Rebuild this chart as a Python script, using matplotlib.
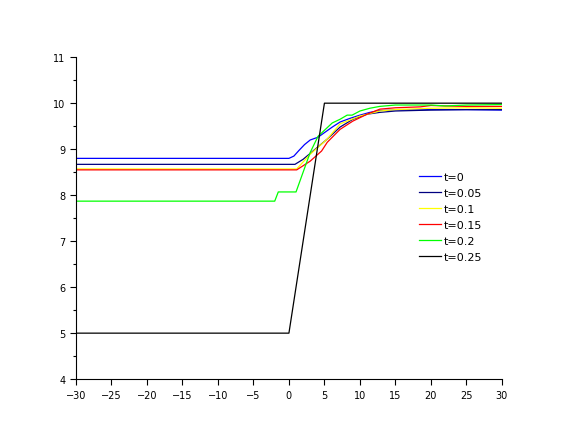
import matplotlib
matplotlib.use("Agg")
from matplotlib import pyplot as plt
from matplotlib.ticker import MultipleLocator

# curve samples
labels = ["t=0", "t=0.05", "t=0.1", "t=0.15", "t=0.2", "t=0.25"]
colors = ["#0000ff", "#000080", "#ffff00", "#ff0000", "#00ff00", "#000000"]

x_t0 = [-30, 0, 0.7, 1.4, 2.2, 3, 4.1, 6.1, 7.2, 8.6, 10, 11.4, 12.8, 15, 20, 25, 30]
y_t0 = [8.80, 8.80, 8.85, 8.97, 9.10, 9.20, 9.26, 9.48, 9.59, 9.67, 9.74, 9.80, 9.84, 9.85, 9.86, 9.86, 9.85]

x_t005 = [-30, 0.85, 2, 3.4, 5.4, 7.2, 9, 11, 12.8, 15, 20, 25, 30]
y_t005 = [8.67, 8.67, 8.78, 8.96, 9.22, 9.48, 9.65, 9.76, 9.80, 9.83, 9.85, 9.86, 9.86]

x_t01 = [-30, 1.1, 3, 5.4, 7.2, 10, 12.8, 15, 20, 25, 30]
y_t01 = [8.57, 8.57, 8.89, 9.22, 9.55, 9.72, 9.83, 9.86, 9.89, 9.90, 9.89]

x_t015 = [-30, 1.1, 3, 4.6, 5.4, 7.2, 9, 11, 12.8, 15, 18.5, 20, 22, 25, 30]
y_t015 = [8.55, 8.55, 8.74, 8.96, 9.15, 9.43, 9.61, 9.76, 9.87, 9.90, 9.92, 9.95, 9.94, 9.93, 9.93]

x_t02 = [-30, -2, -1.5, 1.0, 3, 4.1, 6.1, 7.2, 8.2, 8.9, 10, 11.4, 12.8, 15, 20, 22, 25, 30]
y_t02 = [7.87, 7.87, 8.07, 8.07, 8.93, 9.28, 9.57, 9.65, 9.74, 9.74, 9.83, 9.89, 9.93, 9.96, 9.96, 9.94, 9.96, 9.97]

x_t025 = [-30, 0, 5, 30]
y_t025 = [5.0, 5.0, 10.0, 10.0]

series_x = [x_t0, x_t005, x_t01, x_t015, x_t02, x_t025]
series_y = [y_t0, y_t005, y_t01, y_t015, y_t02, y_t025]

fig = plt.figure(figsize=(5.71, 4.31), dpi=100)
ax = fig.add_axes([0.133, 0.118, 0.746, 0.747])

for xs, ys, c, lab in zip(series_x, series_y, colors, labels):
    ax.plot(xs, ys, color=c, lw=0.9, label=lab)

ax.set_xlim(-30, 30)
ax.set_ylim(4, 11)
ax.xaxis.set_major_locator(MultipleLocator(5))
ax.yaxis.set_major_locator(MultipleLocator(1))
ax.yaxis.set_minor_locator(MultipleLocator(0.5))
ax.tick_params(which="major", direction="out", length=4, width=0.8, labelsize=7)
ax.tick_params(which="minor", direction="out", length=2, width=0.8)

ax.spines["top"].set_visible(False)
ax.spines["right"].set_visible(False)

ax.legend(loc="upper left", bbox_to_anchor=(0.783, 0.675), frameon=False,
          fontsize=8, handlelength=1.9, handletextpad=0.25, labelspacing=0.55)

plt.savefig("out.png", dpi=100)
plt.close()
